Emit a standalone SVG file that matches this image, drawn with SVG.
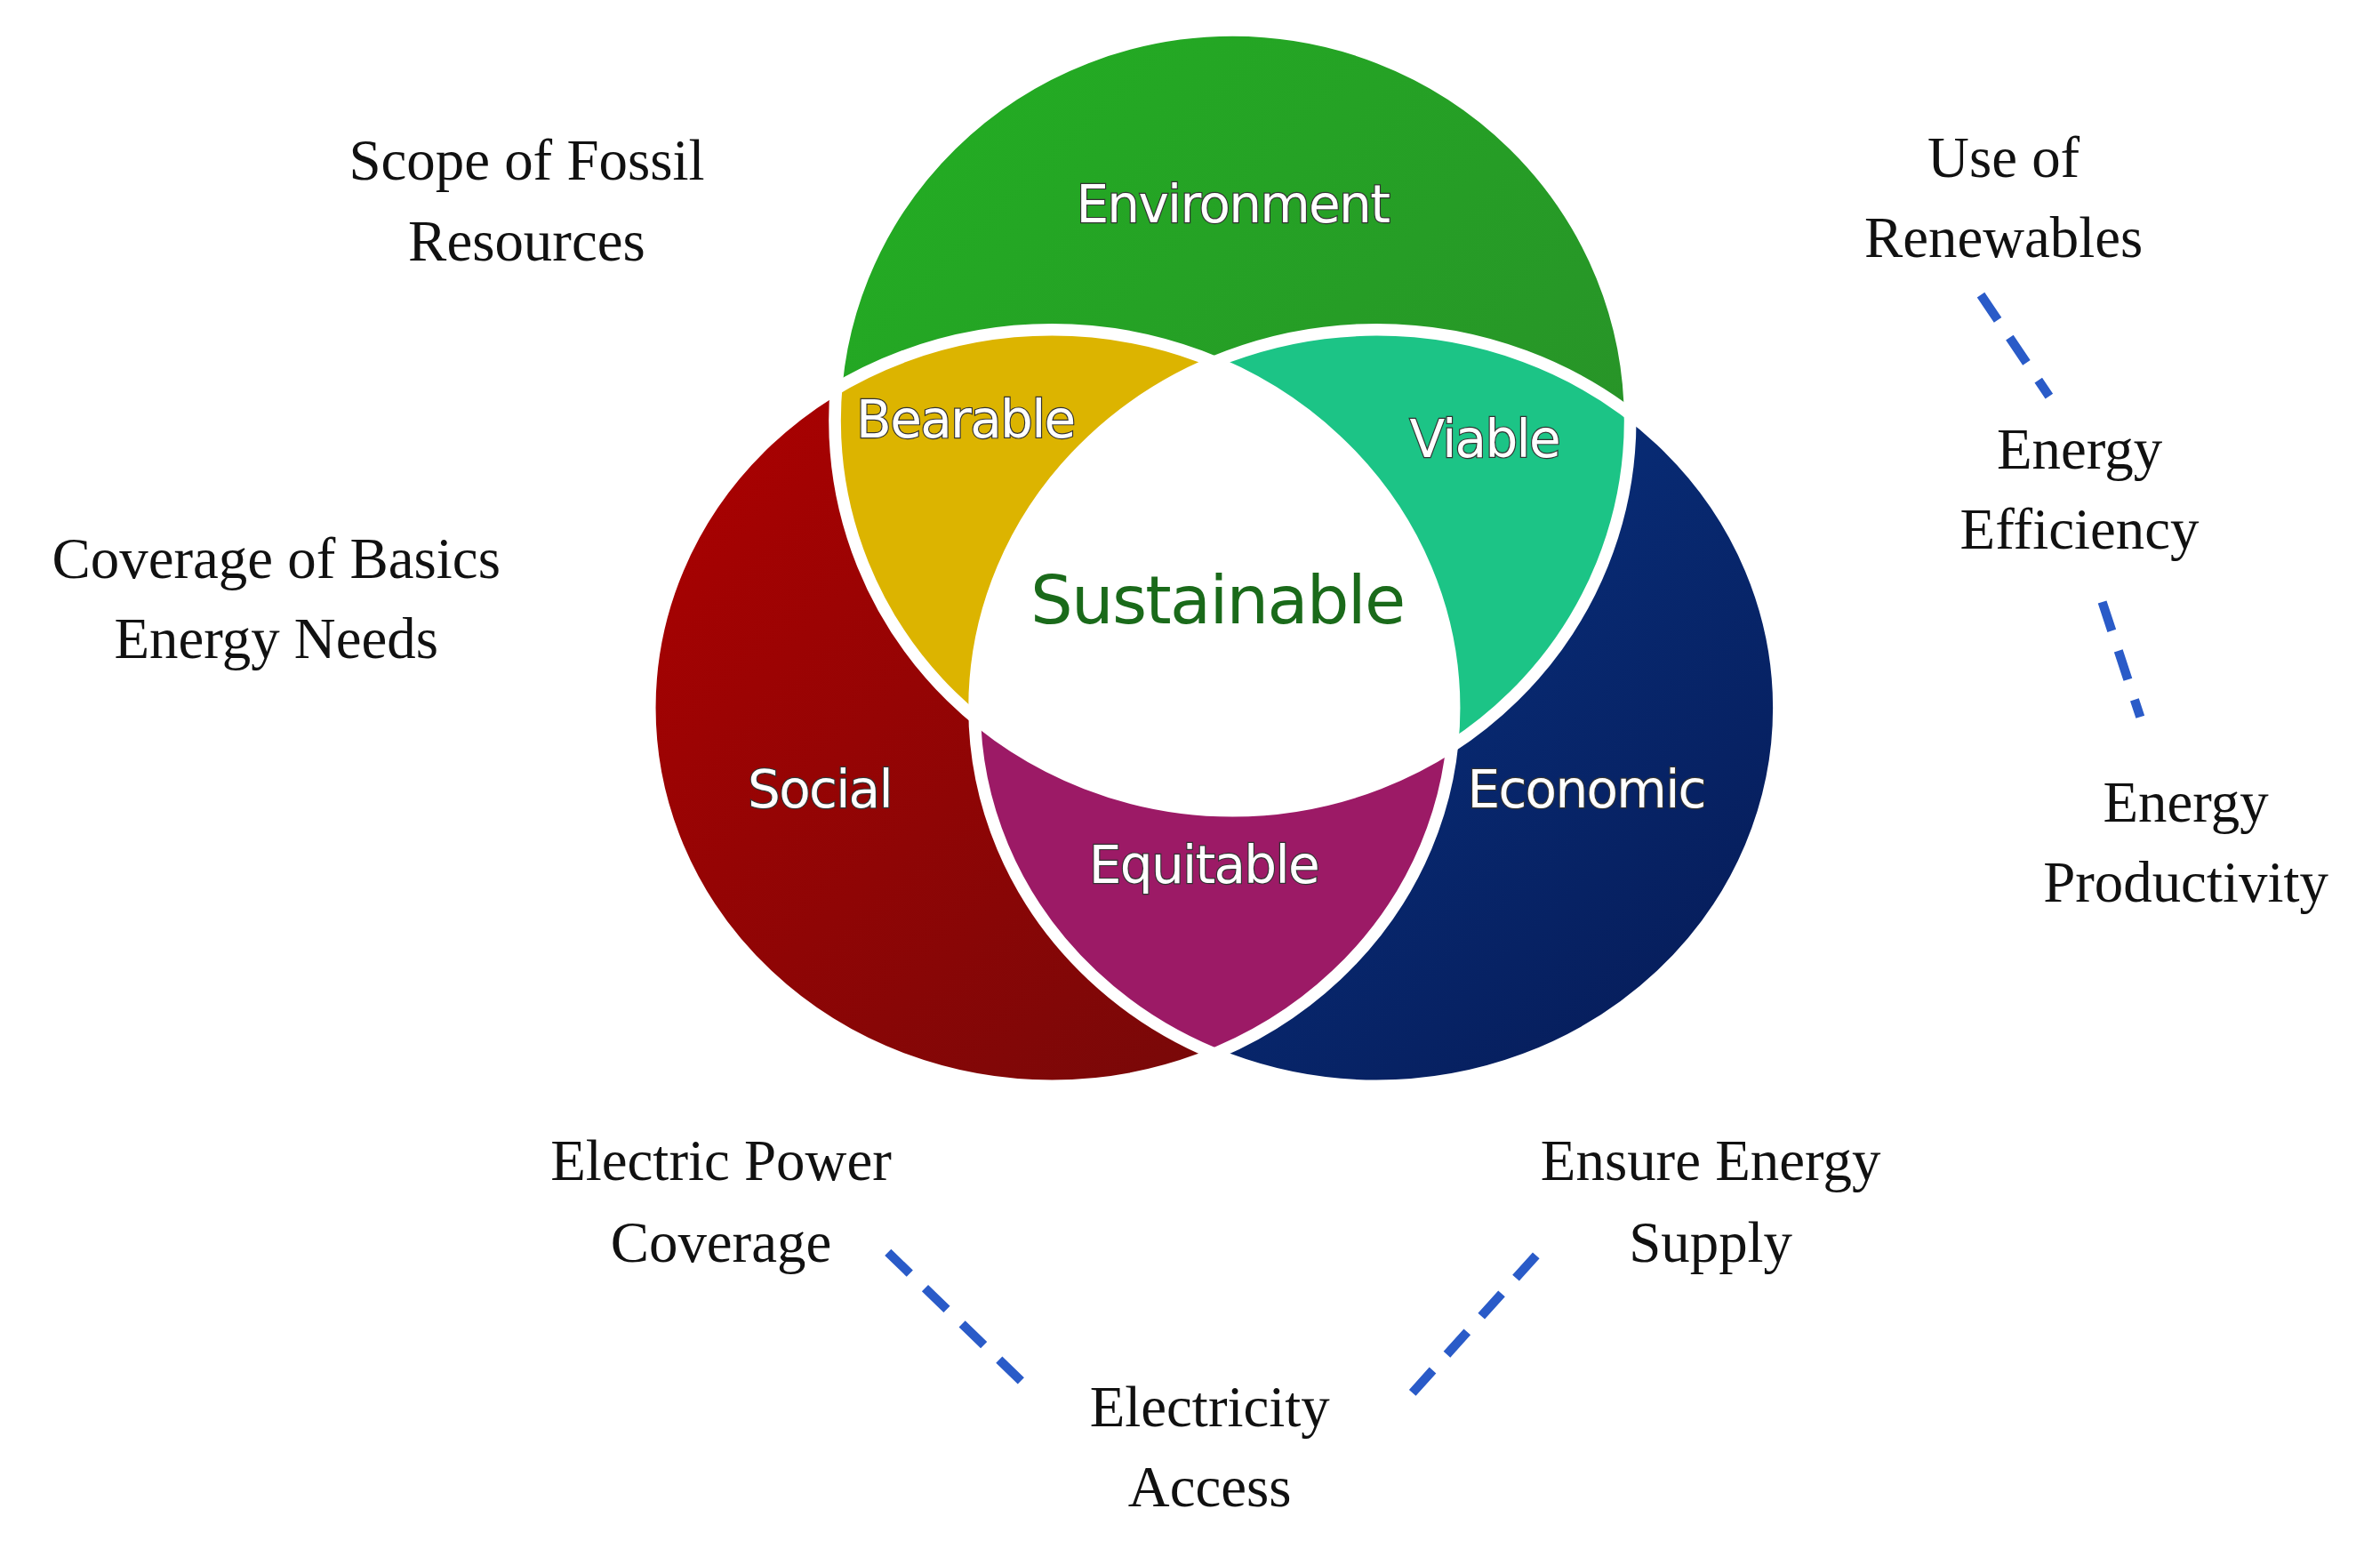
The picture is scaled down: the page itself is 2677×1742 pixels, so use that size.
<svg xmlns="http://www.w3.org/2000/svg" width="2677" height="1742" viewBox="0 0 2677 1742">
<style>
.o{font-family:"Liberation Serif","DejaVu Serif",serif;font-size:38px;fill:#111;text-anchor:middle}
.i{font-family:"DejaVu Sans","Liberation Sans",sans-serif;font-size:34px;fill:#fff;text-anchor:middle;stroke:#333;stroke-width:1.4;paint-order:stroke;letter-spacing:-1px}
.d{stroke:#2a5bc8;stroke-width:6;stroke-dasharray:20 14;fill:none}
.b{fill:none;stroke:#fff;stroke-width:8}
</style>
<defs>
<linearGradient id="gE" x1="0" y1="0" x2="1" y2="1"><stop offset="0" stop-color="#22b022"/><stop offset="1" stop-color="#2a8a2a"/></linearGradient>
<linearGradient id="gS" x1="0" y1="0" x2="1" y2="1"><stop offset="0" stop-color="#b00000"/><stop offset="1" stop-color="#6e0a0a"/></linearGradient>
<linearGradient id="gC" x1="0" y1="0" x2="1" y2="1"><stop offset="0" stop-color="#0a3a90"/><stop offset="1" stop-color="#061a55"/></linearGradient>
<clipPath id="cE"><ellipse cx="812" cy="278" rx="262" ry="258"/></clipPath>
<clipPath id="cS"><ellipse cx="693" cy="468" rx="265" ry="250"/></clipPath>
</defs>
<g transform="scale(1.7073,1.701)">
<g id="env"><ellipse cx="812" cy="278" rx="262" ry="258" fill="url(#gE)"/></g>
<g id="social"><ellipse cx="693" cy="468" rx="265" ry="250" fill="url(#gS)"/></g>
<g id="economic"><ellipse cx="907" cy="468" rx="265" ry="250" fill="url(#gC)"/></g>
<g id="bearable" clip-path="url(#cE)"><ellipse cx="693" cy="468" rx="265" ry="250" fill="#dcb400"/></g>
<g id="viable" clip-path="url(#cE)"><ellipse cx="907" cy="468" rx="265" ry="250" fill="#1cc486"/></g>
<g id="equitable" clip-path="url(#cS)"><ellipse cx="907" cy="468" rx="265" ry="250" fill="#9c1a66"/></g>
<g id="sustainable" clip-path="url(#cE)"><g clip-path="url(#cS)"><ellipse cx="907" cy="468" rx="265" ry="250" fill="#fff"/></g></g>
<g id="borders">
<ellipse class="b" cx="812" cy="278" rx="262" ry="258"/>
<ellipse class="b" cx="693" cy="468" rx="265" ry="250"/>
<ellipse class="b" cx="907" cy="468" rx="265" ry="250"/>
</g>
<text class="i" x="812" y="147">Environment</text>
<text class="i" x="636" y="289">Bearable</text>
<text class="i" x="978" y="302">Viable</text>
<text x="802" y="412" font-family="DejaVu Sans,sans-serif" font-size="44" fill="#1a6a1a" text-anchor="middle" letter-spacing="-1">Sustainable</text>
<text class="i" x="540" y="534">Social</text>
<text class="i" x="1045" y="534">Economic</text>
<text class="i" x="793" y="584">Equitable</text>
<g id="connectors">
<line class="d" x1="1305" y1="195" x2="1350" y2="262"/>
<line class="d" x1="1385" y1="398" x2="1410" y2="474"/>
<line class="d" x1="585" y1="828" x2="682" y2="922"/>
<line class="d" x1="1012" y1="830" x2="925" y2="927"/>
</g>
<g id="labels">
<text class="o" x="347" y="119">Scope of Fossil</text><text class="o" x="347" y="172">Resources</text>
<text class="o" x="182" y="382">Coverage of Basics</text><text class="o" x="182" y="435">Energy Needs</text>
<text class="o" x="1320" y="117">Use of</text><text class="o" x="1320" y="170">Renewables</text>
<text class="o" x="1370" y="310">Energy</text><text class="o" x="1370" y="363">Efficiency</text>
<text class="o" x="1440" y="543">Energy</text><text class="o" x="1440" y="596">Productivity</text>
<text class="o" x="475" y="780">Electric Power</text><text class="o" x="475" y="834">Coverage</text>
<text class="o" x="1127" y="780">Ensure Energy</text><text class="o" x="1127" y="834">Supply</text>
<text class="o" x="797" y="943">Electricity</text><text class="o" x="797" y="996">Access</text>
</g>
</g>
</svg>
